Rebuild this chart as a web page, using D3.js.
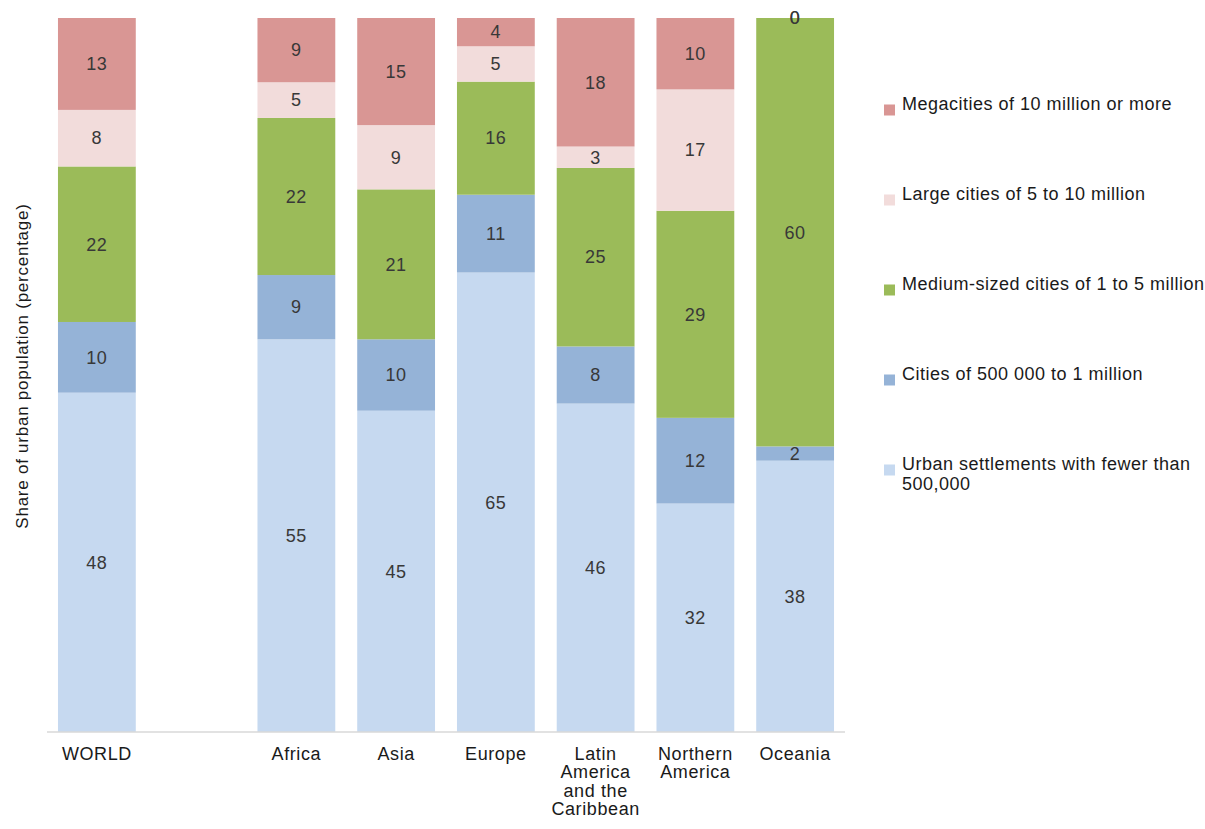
<!DOCTYPE html>
<html>
<head>
<meta charset="utf-8">
<script src="https://cdn.jsdelivr.net/npm/d3@7"></script>
<style>
  html, body { margin: 0; padding: 0; background: #fff; }
  svg { display: block; font-family: "Liberation Sans", Arial, sans-serif; }
</style>
</head>
<body>
<svg id="chart" width="1205" height="829"></svg>
<script>
// Regions (WORLD is shown first, set apart from the regional bars)
const categories = ["WORLD", "Africa", "Asia", "Europe", "Latin America and the Caribbean", "Northern America", "Oceania"];

// Share of urban population by city size class (percentage), per region
const urbanUnder500k = [48, 55, 45, 65, 46, 32, 38];
const cities500kTo1m = [10, 9, 10, 11, 8, 12, 2];
const medium1To5m    = [22, 22, 21, 16, 25, 29, 60];
const large5To10m    = [8, 5, 9, 5, 3, 17, 0];
const mega10mPlus    = [13, 9, 15, 4, 18, 10, 0];

// Series, bottom of the stack first
const seriesNames = [
  "Urban settlements with fewer than 500,000",
  "Cities of 500 000 to 1 million",
  "Medium-sized cities of 1 to 5 million",
  "Large cities of 5 to 10 million",
  "Megacities of 10 million or more"
];
const seriesValues = [urbanUnder500k, cities500kTo1m, medium1To5m, large5To10m, mega10mPlus];
const seriesColors = ["#c6d9f0", "#95b3d7", "#9bbb59", "#f2dcdb", "#d99694"];

const yTitle = "Share of urban population (percentage)";

// Rows for the stack layout
const keys = seriesNames;
const rows = categories.map((c, i) => {
  const r = { category: c };
  keys.forEach((k, s) => { r[k] = seriesValues[s][i]; });
  return r;
});

const svg = d3.select("#chart");
const plot = { left: 47, right: 845, top: 18, bottom: 732 };
const textColor = "#1a1a1a";

// An empty slot after WORLD separates it from the regions
const gapKey = "\u2003";
const bandDomain = [categories[0], gapKey, ...categories.slice(1)];

const x = d3.scaleBand()
  .domain(bandDomain)
  .range([plot.left, plot.right])
  .paddingInner(0.22)
  .paddingOuter(0.11);

const y = d3.scaleLinear().domain([0, 1]).range([plot.bottom, plot.top]);

const color = d3.scaleOrdinal().domain(keys).range(seriesColors);

// 100% stacked: each bar is normalised to its own total
const stacked = d3.stack().keys(keys).offset(d3.stackOffsetExpand)(rows);

const layers = svg.append("g")
  .selectAll("g")
  .data(stacked)
  .join("g")
  .attr("fill", d => color(d.key));

layers.selectAll("rect")
  .data(d => d)
  .join("rect")
  .attr("x", d => x(d.data.category))
  .attr("y", d => y(d[1]))
  .attr("width", x.bandwidth())
  .attr("height", d => y(d[0]) - y(d[1]));

// Value labels centred in each segment
const labels = svg.append("g")
  .attr("font-size", 18)
  .attr("letter-spacing", 0.6)
  .attr("fill", "#383838")
  .attr("text-anchor", "middle");

stacked.forEach(layer => {
  layer.forEach(d => {
    labels.append("text")
      .attr("x", x(d.data.category) + x.bandwidth() / 2)
      .attr("y", (y(d[0]) + y(d[1])) / 2)
      .attr("dy", "0.35em")
      .text(d.data[layer.key]);
  });
});

// Category axis
const xAxis = d3.axisBottom(x).tickSize(0).tickPadding(15)
  .tickFormat(d => d === gapKey ? "" : d);

const gx = svg.append("g")
  .attr("transform", `translate(0,${plot.bottom})`)
  .call(xAxis);

gx.select(".domain").attr("stroke", "#d9d9d9").attr("stroke-width", 1.5)
  .attr("d", `M${plot.left},0H${plot.right}`);

gx.selectAll(".tick text")
  .attr("font-size", 18)
  .attr("letter-spacing", 0.6)
  .attr("font-family", "'Liberation Sans', Arial, sans-serif")
  .attr("fill", textColor)
  .call(wrap, x.bandwidth() + 6);

function wrap(sel, width) {
  sel.each(function () {
    const text = d3.select(this);
    const words = text.text().split(/\s+/).filter(Boolean);
    const yy = text.attr("y");
    const dy = parseFloat(text.attr("dy")) || 0;
    text.text(null);
    let line = [];
    let lineNo = 0;
    let tspan = text.append("tspan").attr("x", 0).attr("y", yy).attr("dy", dy + "em");
    words.forEach(w => {
      line.push(w);
      tspan.text(line.join(" "));
      if (tspan.node().getComputedTextLength() > width && line.length > 1) {
        line.pop();
        tspan.text(line.join(" "));
        line = [w];
        lineNo++;
        tspan = text.append("tspan").attr("x", 0).attr("y", yy)
          .attr("dy", (lineNo * 1.03 + dy) + "em").text(w);
      }
    });
  });
}

// Y axis title
svg.append("text")
  .attr("transform", `translate(22,366) rotate(-90)`)
  .attr("text-anchor", "middle")
  .attr("dy", "0.35em")
  .attr("font-size", 17)
  .attr("letter-spacing", 0.75)
  .attr("fill", textColor)
  .text(yTitle);

// Legend, top series first
const legendOrder = keys.slice().reverse();
const legend = svg.append("g").attr("transform", "translate(884,110)");
const legendStep = 90;

legendOrder.forEach((k, i) => {
  const g = legend.append("g").attr("transform", `translate(0,${i * legendStep})`);
  g.append("rect")
    .attr("x", 0).attr("y", -5.5)
    .attr("width", 11).attr("height", 11)
    .attr("fill", color(k));
  const t = g.append("text")
    .attr("x", 18)
    .attr("dy", "0.35em")
    .attr("font-size", 18)
    .attr("letter-spacing", 0.5)
    .attr("fill", textColor);
  const maxW = 306;
  const words = k.split(" ");
  let line = [];
  let ts = t.append("tspan").attr("x", 18).attr("dy", 0);
  words.forEach(w => {
    line.push(w);
    ts.text(line.join(" "));
    if (ts.node().getComputedTextLength() > maxW && line.length > 1) {
      line.pop();
      ts.text(line.join(" "));
      line = [w];
      ts = t.append("tspan").attr("x", 18).attr("dy", "1.1em").text(w);
    }
  });
});
</script>
</body>
</html>
